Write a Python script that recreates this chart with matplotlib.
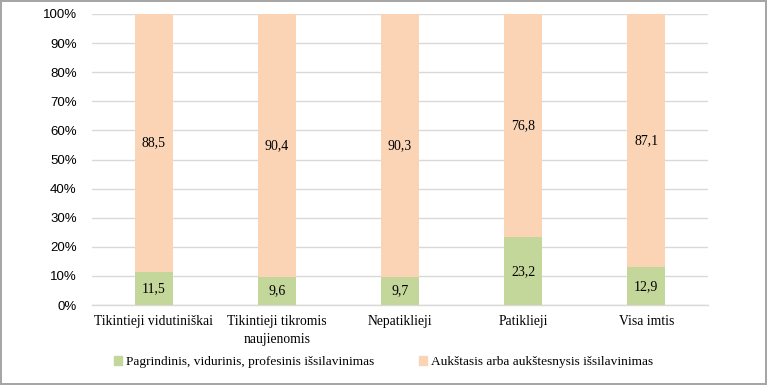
import matplotlib.pyplot as plt
import matplotlib.patches as mpatches

categories = ["Tikintieji vidutiniškai", "Tikintieji tikromis\nnaujienomis",
              "Nepatiklieji", "Patiklieji", "Visa imtis"]
lower = [11.5, 9.6, 9.7, 23.2, 12.9]
upper = [88.5, 90.4, 90.3, 76.8, 87.1]
series_names = ["Pagrindinis, vidurinis, profesinis išsilavinimas",
                "Aukštasis arba aukštesnysis išsilavinimas"]
yticks = [0, 10, 20, 30, 40, 50, 60, 70, 80, 90, 100]

green = "#C4D79B"
peach = "#FAD4B5"
serif = "Liberation Serif"

fig = plt.figure(figsize=(7.67, 3.85), dpi=100)
fig.patch.set_edgecolor("#A6A6A6")
fig.patch.set_linewidth(1.5)
ax = fig.add_axes([92 / 767, 1 - 305 / 385, 616 / 767, 291 / 385])

x = list(range(len(categories)))
ax.bar(x, lower, width=0.31, color=green, zorder=3)
ax.bar(x, upper, width=0.31, bottom=lower, color=peach, zorder=3)

for i in x:
    ax.text(i, lower[i] / 2, f"{lower[i]:.1f}".replace(".", ","), ha="center", va="center",
            fontsize=10, family=serif, zorder=4)
    ax.text(i, lower[i] + upper[i] / 2, f"{upper[i]:.1f}".replace(".", ","), ha="center",
            va="center", fontsize=10, family=serif, zorder=4)

ax.set_xlim(-0.5, len(categories) - 0.5)
ax.set_ylim(0, 100)
ax.set_yticks(yticks)
ax.set_yticklabels([f"{t}%" for t in yticks], fontsize=9.5, family="Liberation Sans")
ax.set_xticks(x)
ax.set_xticklabels(categories, fontsize=9.8, family=serif, linespacing=1.55)
ax.tick_params(length=0, pad=7)
ax.tick_params(axis="y", pad=11)
ax.grid(axis="y", color="#D9D9D9", linewidth=1, zorder=0)
for s in ["top", "right", "left"]:
    ax.spines[s].set_visible(False)
ax.spines["bottom"].set_color("#D9D9D9")
ax.spines["bottom"].set_linewidth(1)

handles = [mpatches.Patch(color=green), mpatches.Patch(color=peach)]
fig.legend(handles, series_names, loc="center", bbox_to_anchor=(0.5, 1 - 362 / 385),
           ncol=2, frameon=False, prop={"family": serif, "size": 9.6},
           handlelength=0.6, handleheight=0.6, handletextpad=0.3, columnspacing=3.3)

fig.savefig("out.png", dpi=100, edgecolor=fig.get_edgecolor())
